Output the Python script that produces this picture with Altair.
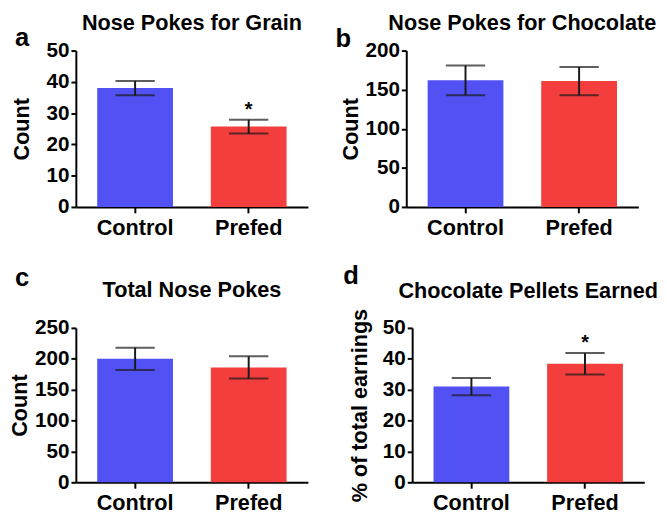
import altair as alt
import pandas as pd

groups = ["Control", "Prefed"]
colors = ["#5252F4", "#F43E3E"]

grain_mean = [38.0, 25.7]
grain_sem = [2.3, 2.2]
grain_star = ["", "*"]

choc_mean = [162.0, 161.0]
choc_sem = [19.0, 18.0]
choc_star = ["", ""]

total_mean = [200.0, 186.0]
total_sem = [18.0, 18.0]
total_star = ["", ""]

pellet_mean = [31.0, 38.4]
pellet_sem = [2.8, 3.5]
pellet_star = ["", "*"]

W = 236
FONT = "Liberation Sans"


def panel(letter, heading, ytitle, ymax, step, means, sems, stars,
          letter_x, letter_y, head_y, tpad, H):
    df = pd.DataFrame({
        "group": groups,
        "mean": means,
        "lo": [m - s for m, s in zip(means, sems)],
        "hi": [m + s for m, s in zip(means, sems)],
        "star": stars,
    })
    ticks = list(range(0, ymax + 1, step))
    yscale = alt.Scale(domain=[0, ymax], nice=False, zero=True)
    yaxis = alt.Axis(values=ticks, tickCount=len(ticks) + 4, grid=False,
                     labelOverlap=False, labelFlush=False,
                     labelFontSize=21, labelFont=FONT,
                     labelFontWeight="bold", labelColor="#000",
                     titleFontSize=22, titleFont=FONT,
                     titleFontWeight="bold", titleColor="#000",
                     titlePadding=tpad,
                     domainColor="#000", domainWidth=2,
                     tickColor="#000", tickWidth=2, tickSize=5,
                     labelPadding=2)
    base = alt.Chart(df).encode(
        x=alt.X("group:N", sort=groups, title=None,
                scale=alt.Scale(paddingInner=0.333, paddingOuter=0.188),
                axis=alt.Axis(labelAngle=0, labelFontSize=22, labelFont=FONT,
                              labelFontWeight="bold", labelColor="#000",
                              domainColor="#000", domainWidth=2,
                              tickColor="#000", tickWidth=2, tickSize=6,
                              labelPadding=5)),
    )
    bars = base.mark_bar().encode(
        y=alt.Y("mean:Q", scale=yscale, title=ytitle, axis=yaxis),
        color=alt.Color("group:N", scale=alt.Scale(domain=groups, range=colors),
                        legend=None),
    )
    rule = base.mark_rule(color="#1a1a1a", strokeWidth=2).encode(
        y=alt.Y("lo:Q", axis=yaxis, title=ytitle), y2="hi:Q")
    cap_hi = base.mark_tick(color="#1a1a1a", thickness=2, size=40).encode(
        y=alt.Y("hi:Q", axis=yaxis, title=ytitle))
    cap_lo = base.mark_tick(color="#1a1a1a", thickness=2, size=40).encode(
        y=alt.Y("lo:Q", axis=yaxis, title=ytitle))
    star = base.mark_text(dy=-4, fontSize=20, fontWeight="bold", font=FONT,
                          baseline="alphabetic", color="#000").encode(
        y=alt.Y("hi:Q", axis=yaxis, title=ytitle), text="star:N")
    head = alt.Chart(pd.DataFrame({"t": [heading]})).mark_text(
        fontSize=22, fontWeight="bold", font=FONT, align="center",
        baseline="alphabetic", color="#000").encode(
        text="t:N", x=alt.value(W / 2), y=alt.value(head_y))
    let = alt.Chart(pd.DataFrame({"t": [letter]})).mark_text(
        fontSize=26, fontWeight="bold", font=FONT, align="left",
        baseline="alphabetic", color="#000").encode(
        text="t:N", x=alt.value(letter_x), y=alt.value(letter_y))
    return alt.layer(bars, rule, cap_hi, cap_lo, star, head, let).properties(
        width=W, height=H)


pa = panel("a", "Nose Pokes for Grain", "Count", 50, 10,
           grain_mean, grain_sem, grain_star, -62, -5, -21, 13, 159)
pb = panel("b", "Nose Pokes for Chocolate", "Count", 200, 50,
           choc_mean, choc_sem, choc_star, -72, -4, -21, 3, 159)
pc = panel("c", "Total Nose Pokes", "Count", 250, 50,
           total_mean, total_sem, total_star, -62, -43, -31, 3, 157)
pd_ = panel("d", "Chocolate Pellets Earned", "% of total earnings", 50, 10,
            pellet_mean, pellet_sem, pellet_star, -70, -45, -30, 11, 157)

row1 = alt.hconcat(pa, pb, spacing=28)
row2 = alt.hconcat(pc, pd_, spacing=36)
chart = alt.vconcat(row1, row2, spacing=25).properties(
    padding={"left": 0, "top": 0, "right": 0, "bottom": 0}
).configure(background="white").configure_view(stroke=None)

chart.save("out.html", embed_options={"renderer": "svg", "actions": False})
